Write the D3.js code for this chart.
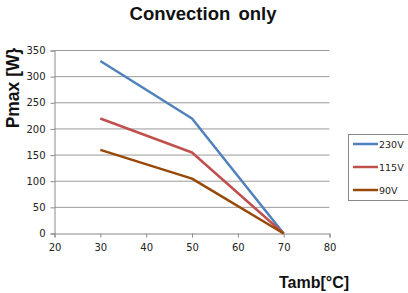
<!DOCTYPE html>
<html><head><meta charset="utf-8">
<script src="https://cdn.jsdelivr.net/npm/d3@7"></script>
<style>body{margin:0;background:#fff}svg{display:block}</style>
</head><body>
<script>
const temps = [30, 50, 70];
const seriesNames = ["230V", "115V", "90V"];
const v230 = [330, 220, 0];
const v115 = [220, 155, 0];
const v90 = [160, 105, 0];
const colors = ["#4F81BD", "#C0504D", "#984807"];
const xTicks = [20, 30, 40, 50, 60, 70, 80];
const yTicks = [0, 50, 100, 150, 200, 250, 300, 350];

const series = [v230, v115, v90].map((vals, i) => ({name: seriesNames[i], color: colors[i], pts: temps.map((t, j) => [t, vals[j]])}));

const W = 408, H = 293;
const svg = d3.select("body").append("svg").attr("width", W).attr("height", H);
const x = d3.scaleLinear().domain([20, 80]).range([54.5, 329.5]);
const y = d3.scaleLinear().domain([0, 350]).range([233.5, 50.5]);

svg.append("text").attr("x", 203).attr("y", 20).attr("text-anchor", "middle")
  .style("font", "bold 18.5px 'Liberation Sans', Arial, sans-serif").style("word-spacing", "3px").attr("fill", "#111").text("Convection only");

// gridlines
svg.append("g").selectAll("line").data(yTicks.filter(d => d > 0)).join("line")
  .attr("x1", x(20)).attr("x2", x(80)).attr("y1", d => y(d)).attr("y2", d => y(d))
  .attr("stroke", "#9a9a9a").attr("stroke-width", 1);

const yAxis = svg.append("g").attr("transform", `translate(${x(20)},0)`)
  .call(d3.axisLeft(y).tickValues(yTicks).tickSize(4).tickPadding(5));
const xAxis = svg.append("g").attr("transform", `translate(0,${y(0)})`)
  .call(d3.axisBottom(x).tickValues(xTicks).tickSize(4).tickPadding(6));
[yAxis, xAxis].forEach(a => {
  a.select(".domain").attr("stroke", "#8a8a8a");
  a.selectAll(".tick line").attr("stroke", "#8a8a8a");
  a.selectAll("text").style("font", "10px 'DejaVu Sans', sans-serif").attr("fill", "#222");
});

const line = d3.line().x(d => x(d[0])).y(d => y(d[1]));
svg.append("g").selectAll("path").data(series).join("path")
  .attr("d", d => line(d.pts)).attr("fill", "none")
  .attr("stroke", d => d.color).attr("stroke-width", 2.5).attr("stroke-linejoin", "round");

svg.append("text").attr("transform", "translate(19,88) rotate(-90)").attr("text-anchor", "middle")
  .style("font", "bold 17.5px 'Liberation Sans', Arial, sans-serif").attr("fill", "#111").text("Pmax [W}");
svg.append("text").attr("x", 314).attr("y", 288).attr("text-anchor", "middle")
  .style("font", "bold 16px 'Liberation Sans', Arial, sans-serif").attr("fill", "#111").text("Tamb[°C]");

// legend
const lg = svg.append("g");
lg.append("rect").attr("x", 348.5).attr("y", 134.5).attr("width", 70).attr("height", 66)
  .attr("fill", "#fff").attr("stroke", "#888").attr("stroke-width", 1);
const items = lg.selectAll("g").data(series).join("g")
  .attr("transform", (d, i) => `translate(0,${144 + i * 23})`);
items.append("line").attr("x1", 353).attr("x2", 378).attr("y1", 0).attr("y2", 0)
  .attr("stroke", d => d.color).attr("stroke-width", 2.5);
items.append("text").attr("x", 379).attr("y", 3.5)
  .style("font", "9.5px 'DejaVu Sans', sans-serif").attr("fill", "#222").text(d => d.name);
</script>
</body></html>
